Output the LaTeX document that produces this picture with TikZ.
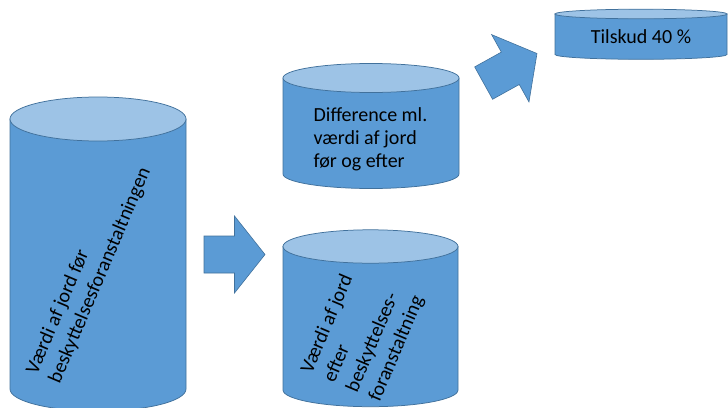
\documentclass[tikz,border=0pt]{standalone}
\usepackage{fontspec}
\setmainfont{Carlito}
\usetikzlibrary{calc}
\definecolor{DrumBlue}{HTML}{5B9BD5}
\definecolor{LidBlue}{HTML}{9DC3E6}
\definecolor{EdgeBlue}{HTML}{41719C}

% name, centre x, lid y, floor y, x radius, y radius
\newcommand{\drum}[6]{%
  \path[drumbody] (#2-#5,#3) -- (#2-#5,#4) arc[start angle=180, end angle=0, x radius=#5, y radius=#6] -- (#2+#5,#3) -- cycle;
  \path[drumlid] (#2,#3) ellipse[x radius=#5, y radius=#6];
  \coordinate (#1) at (#2,#3);
}

\begin{document}
\begin{tikzpicture}[x=1pt, y=-1pt, every node/.style={font=\fontsize{20}{24.5}\selectfont, align=left, inner sep=0pt}, drumbody/.style={draw=EdgeBlue, fill=DrumBlue, line width=0.75pt}, drumlid/.style={draw=EdgeBlue, fill=LidBlue, line width=0.75pt}, blockarrow/.style={draw=EdgeBlue, fill=DrumBlue, line width=0.6pt}]
    \useasboundingbox (0,0) rectangle (728,407);
    \drum{before}{98}{119}{389}{88}{22}
    \drum{after}{370.5}{246.5}{390}{87.5}{16.7}
    \drum{diff}{371}{78}{174}{88}{14.5}
    \drum{grant}{641}{14}{54.5}{86}{4.8}
    % texts
    \node[rotate=67] (beforetxt) at (89,271) {Værdi af jord før\\beskyttelsesforanstaltningen};
    \node[rotate=67] (aftertxt) at (363,334.5) {Værdi af jord\\efter\\beskyttelses-\\foranstaltning};
    \node[font=\fontsize{20}{23.3}\selectfont] (difftxt) at (370.5,139.4) {Difference ml.\\værdi af jord\\før og efter};
    \node[anchor=base] (granttxt) at (641,43.5) {Tilskud 40 \%};
    % block arrows
    \draw[blockarrow, shift={(234.5,254.5)}] (-30.5,-18.5) -- (0,-18.5) -- (0,-38.5) -- (30.5,0) -- (0,38.5) -- (0,18.5) -- (-30.5,18.5) -- cycle;
    \draw[blockarrow, shift={(510.3,68.3)}, rotate=29] (-30.5,-18.5) -- (0,-18.5) -- (0,-38.5) -- (30.5,0) -- (0,38.5) -- (0,18.5) -- (-30.5,18.5) -- cycle;
\end{tikzpicture}
\end{document}
